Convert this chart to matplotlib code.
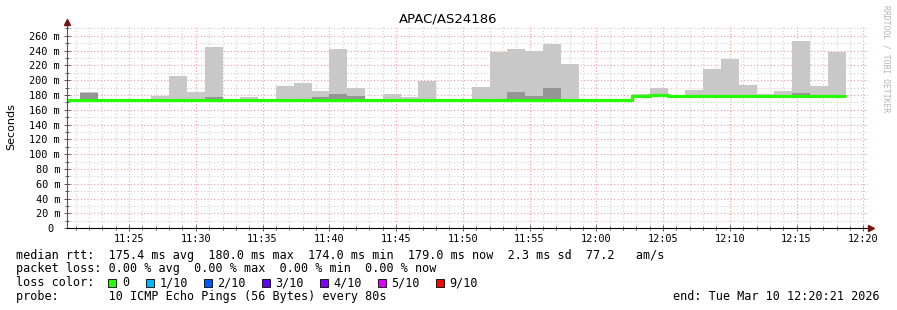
import datetime as dt

import matplotlib
matplotlib.use('Agg')
import matplotlib.pyplot as plt
import matplotlib.dates as mdates
from matplotlib.ticker import MultipleLocator, FuncFormatter
from matplotlib.lines import Line2D
from matplotlib.patches import Rectangle

# Smokeping-style latency graph, 80 s steps, one hour window

# --- data (ms), one entry per 80 s step starting 11:20:00 ---
median = [174] * 32 + [179, 180] + [179] * 10
rtt_min = [174] * 18 + [172] + [174] * 13 + [178, 179] + [178] * 10
dark_top = [174, 183, 174, 174, 174, 174, 174, 174, 177, 174,
            174, 174, 174, 174, 178, 181, 179, 174, 174, 174,
            174, 174, 174, 174, 174, 184.5, 179, 190, 174, 174,
            174, 174, 179, 180, 179, 179, 179, 179, 179, 179,
            179, 183, 179, 179]
rtt_max = [174, 184, 174, 174, 174, 178.4, 205.8, 184.2, 245, 174,
           177, 174, 192.3, 196.4, 185.5, 242.3, 189.6, 174, 181.5, 177.4,
           199, 174, 174, 191, 238, 242.3, 239.6, 249.5, 222, 174,
           174, 174, 181.4, 189.6, 179, 187, 215.3, 229, 194, 182,
           186, 253, 192.7, 238.6]

loss_labels = ['0', '1/10', '2/10', '3/10', '4/10', '5/10', '9/10']
loss_colors = ['#26ff00', '#00b8ff', '#0059ff', '#5e00ff', '#7e00ff',
               '#dd00ff', '#ff0000']

step = 80
t0 = dt.datetime(2026, 3, 10, 11, 20, 0)
edges = [mdates.date2num(t0 + dt.timedelta(seconds=step * i))
         for i in range(len(median) + 1)]
start = dt.datetime(2026, 3, 10, 11, 20, 21)
end = dt.datetime(2026, 3, 10, 12, 20, 21)

W, H = 897, 310
mono = 'DejaVu Sans Mono'


def px(x, y):
    """Pixel coordinates -> figure fraction."""
    return x / W, 1 - y / H


fig = plt.figure(figsize=(W / 100, H / 100), dpi=100, facecolor='white')
ax = fig.add_axes([67 / W, (H - 228.3) / H, (868 - 67) / W, (228.3 - 27) / H])

# smoke: light outer range, darker core
ax.stairs(rtt_max, edges, baseline=rtt_min, fill=True, color='#c8c8c8', lw=0)
ax.stairs(dark_top, edges, baseline=rtt_min, fill=True, color='#959595', lw=0)
# median line
ax.stairs(median, edges, baseline=None, color=loss_colors[0], lw=2.3)

ax.set_xlim(mdates.date2num(start), mdates.date2num(end))
ax.set_ylim(0, 272)

ax.xaxis.set_major_locator(mdates.MinuteLocator(byminute=range(0, 60, 5)))
ax.xaxis.set_minor_locator(mdates.MinuteLocator())
ax.xaxis.set_major_formatter(mdates.DateFormatter('%H:%M'))
ax.yaxis.set_major_locator(MultipleLocator(20))
ax.yaxis.set_minor_locator(MultipleLocator(10))
ax.yaxis.set_major_formatter(
    FuncFormatter(lambda v, p: '0 ' if v == 0 else '%d m' % v))

ax.grid(which='minor', color='#cfcfcf', linestyle=(0, (1, 2)), lw=0.8)
ax.grid(which='major', color='#f29a9a', linestyle=(0, (1, 2)), lw=0.8)
ax.set_axisbelow(True)

for s in ['top', 'right']:
    ax.spines[s].set_visible(False)
ax.spines['left'].set_color('#555555')
ax.spines['bottom'].set_color('black')

ax.tick_params(which='both', direction='inout', colors='#555555',
               labelcolor='black', width=0.7)
ax.tick_params(which='major', length=4)
ax.tick_params(which='minor', length=2.5)
ax.tick_params(axis='x', pad=2)
ax.tick_params(axis='y', pad=3)
for lab in ax.get_xticklabels() + ax.get_yticklabels():
    lab.set_fontfamily(mono)
    lab.set_fontsize(7.4)

# axis arrows
fig.add_artist(Line2D([px(67, 0)[0]] * 2, [px(0, 27)[1], px(0, 22)[1]],
                      color='#555555', lw=0.8))
fig.add_artist(Line2D([px(868, 0)[0], px(870, 0)[0]], [px(0, 228.3)[1]] * 2,
                      color='black', lw=0.8))
fig.add_artist(Line2D([px(67, 0)[0]], [px(0, 22)[1]], marker='^', ms=4,
                      color='#7a1010', lw=0))
fig.add_artist(Line2D([px(871, 0)[0]], [px(0, 228.3)[1]], marker='>', ms=4,
                      color='#7a1010', lw=0))

# titles
fig.text(*px(448, 19), 'APAC/AS24186', ha='center', va='center',
         fontsize=9.5, family='DejaVu Sans')
fig.text(*px(11, 127), 'Seconds', ha='center', va='center', rotation=90,
         fontsize=8, family='DejaVu Sans')
fig.text(*px(886, 5), 'RRDTOOL / TOBI OETIKER', ha='center', va='top',
         rotation=270, fontsize=5.8, family=mono, color='#b4b4b4')

# legend block
fs = 8.5
fig.text(*px(16, 255), 'median rtt:  175.4 ms avg  180.0 ms max  174.0 ms min'
         '  179.0 ms now  2.3 ms sd  77.2   am/s',
         ha='left', va='center', fontsize=fs, family=mono)
fig.text(*px(16, 268.5), 'packet loss: 0.00 % avg  0.00 % max  0.00 % min'
         '  0.00 % now', ha='left', va='center', fontsize=fs, family=mono)
fig.text(*px(16, 282.5), 'loss color:', ha='left', va='center',
         fontsize=fs, family=mono)
sq_x = [108, 145.5, 203.5, 261.5, 319.5, 377.5, 435.5]
for x, c, lab in zip(sq_x, loss_colors, loss_labels):
    fx, fy = px(x, 286.5)
    fig.add_artist(Rectangle((fx, fy), 8 / W, 8 / H, facecolor=c,
                             edgecolor='black', lw=0.6,
                             transform=fig.transFigure))
    fig.text(*px(x + 14, 282.5), lab, ha='left', va='center',
             fontsize=fs, family=mono)
fig.text(*px(16, 296.5), 'probe:       10 ICMP Echo Pings (56 Bytes) every 80s',
         ha='left', va='center', fontsize=fs, family=mono)
fig.text(*px(880, 296.5), 'end: Tue Mar 10 12:20:21 2026', ha='right',
         va='center', fontsize=fs, family=mono)

fig.savefig('out.png', dpi=100, facecolor='white')
